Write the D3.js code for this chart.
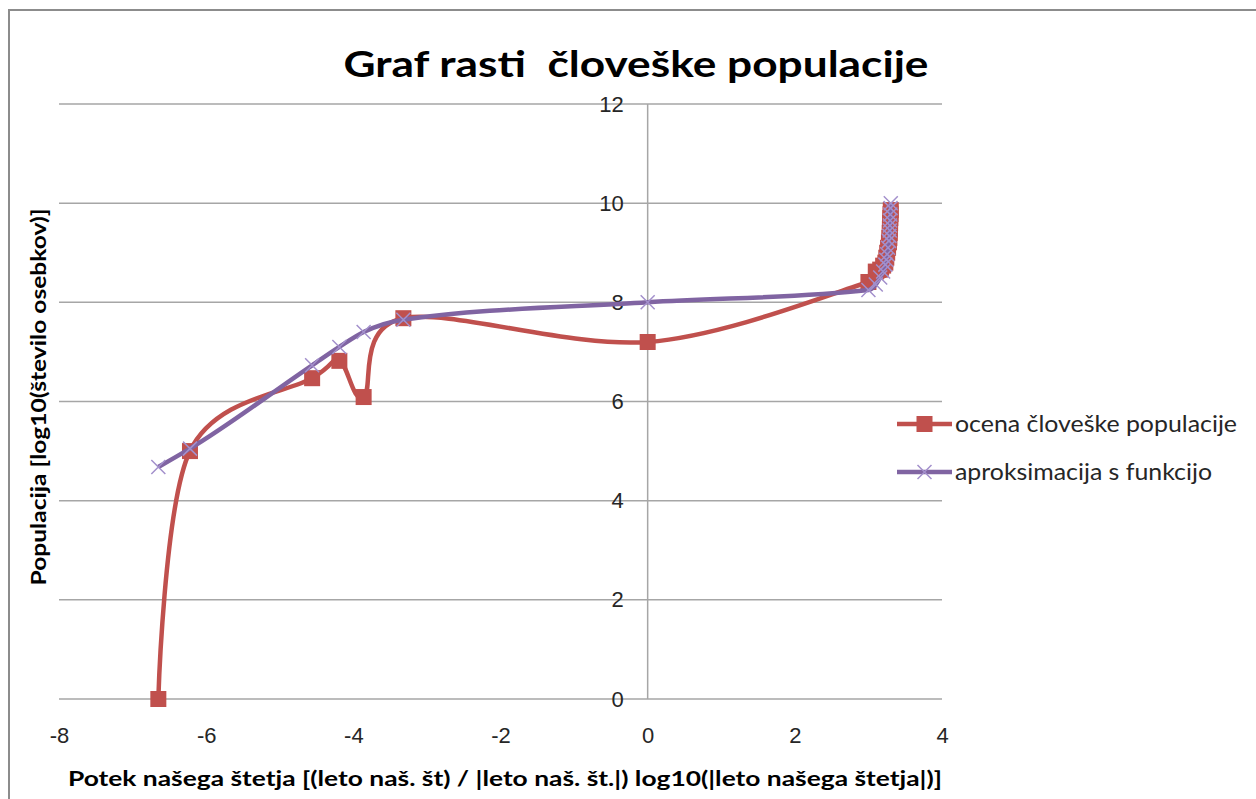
<!DOCTYPE html>
<html>
<head>
<meta charset="utf-8">
<script src="https://cdn.jsdelivr.net/npm/d3@7"></script>
<style>
  body { margin: 0; background: #fff; }
  svg { display: block; font-family: Lato, "Open Sans", sans-serif; }
  .grid line { stroke: #a6a6a6; stroke-width: 1.5; }
  .tick text { fill: #262626; font-size: 22px; }
</style>
</head>
<body>
<svg id="chart"></svg>
<script>
// Dimensions of the SVG
const width = 1256;
const height = 799;

// log10 of the year (signed), shared by both series
const leta = [-6.65, -6.22, -4.56, -4.19, -3.86, -3.32, 0, 3.0, 3.1, 3.16, 3.2, 3.23, 3.243, 3.255,
  3.267, 3.279, 3.285, 3.29, 3.292, 3.295, 3.298, 3.301, 3.304];

// log10 of the population estimate
const ocena = [0, 5.0, 6.47, 6.82, 6.09, 7.68, 7.2, 8.41, 8.62, 8.66, 8.74, 8.8, 8.9, 9.0,
  9.1, 9.21, 9.3, 9.4, 9.48, 9.6, 9.7, 9.78, 9.86];

// log10 of the approximating function
const aproksimacija = [4.68, 5.05, 6.73, 7.1, 7.4, 7.65, 8.0, 8.25, 8.36, 8.5, 8.62, 8.76, 8.86, 8.97,
  9.1, 9.24, 9.34, 9.45, 9.55, 9.65, 9.77, 9.9, 10.0];

const xTicks = [-8, -6, -4, -2, 0, 2, 4];
const yTicks = [0, 2, 4, 6, 8, 10, 12];

const seriesNames = ["ocena človeške populacije", "aproksimacija s funkcijo"];
const colors = ["#c0504d", "#8064a2"];

const svg = d3.select("#chart")
  .attr("width", width)
  .attr("height", height);

// Chart border
svg.append("rect")
  .attr("x", 9)
  .attr("y", 10)
  .attr("width", width + 20)
  .attr("height", height + 20)
  .attr("fill", "none")
  .attr("stroke", "#8c8c8c")
  .attr("stroke-width", 2);

// Scales
const x = d3.scaleLinear().domain([-8, 4]).range([59, 942]);
const y = d3.scaleLinear().domain([0, 12]).range([699, 104]);

// Horizontal gridlines
svg.append("g")
  .attr("class", "grid")
  .selectAll("line")
  .data(yTicks)
  .enter().append("line")
    .attr("x1", x(-8))
    .attr("x2", x(4))
    .attr("y1", (d) => y(d))
    .attr("y2", (d) => y(d));

// Vertical axis line at x = 0
svg.append("line")
  .attr("x1", x(0))
  .attr("x2", x(0))
  .attr("y1", y(12))
  .attr("y2", y(0))
  .attr("stroke", "#a6a6a6")
  .attr("stroke-width", 1.5);

// Y tick labels
const yAxis = d3.axisLeft(y).tickValues(yTicks).tickSize(0).tickPadding(24)
  .tickFormat((d) => String(d));
svg.append("g")
  .attr("transform", `translate(${x(0)}, 0)`)
  .call(yAxis)
  .call((g) => g.select(".domain").remove())
  .selectAll("text").attr("font-family", null);

// X tick labels, low on the chart (plain hyphen for negatives, like Excel)
const xAxis = d3.axisBottom(x).tickValues(xTicks).tickSize(0).tickPadding(0)
  .tickFormat((d) => String(d));
svg.append("g")
  .attr("transform", "translate(0, 727)")
  .call(xAxis)
  .call((g) => g.select(".domain").remove())
  .selectAll("text").attr("font-family", null);

// Lines (Excel style smoothing)
const redLine = d3.line()
  .x((d) => x(d[0]))
  .y((d) => y(d[1]))
  .curve(d3.curveCardinal.tension(0));

const purpleLine = d3.line()
  .x((d) => x(d[0]))
  .y((d) => y(d[1]))
  .curve(d3.curveMonotoneX);

const redPts = leta.map((v, i) => [v, ocena[i]]);
const purplePts = leta.map((v, i) => [v, aproksimacija[i]]);

svg.append("path")
  .datum(redPts)
  .attr("d", redLine)
  .attr("fill", "none")
  .attr("stroke", colors[0])
  .attr("stroke-width", 4.5)
  .attr("stroke-linejoin", "round");

svg.append("g")
  .selectAll("rect")
  .data(redPts)
  .enter().append("rect")
    .attr("x", (d) => x(d[0]) - 8)
    .attr("y", (d) => y(d[1]) - 8)
    .attr("width", 16)
    .attr("height", 16)
    .attr("fill", colors[0]);

svg.append("path")
  .datum(purplePts)
  .attr("d", purpleLine)
  .attr("fill", "none")
  .attr("stroke", colors[1])
  .attr("stroke-width", 4.5)
  .attr("stroke-linejoin", "round");

const cross = (g, cx, cy) => {
  g.append("path")
    .attr("d", `M${cx - 7},${cy - 7}L${cx + 7},${cy + 7}M${cx - 7},${cy + 7}L${cx + 7},${cy - 7}`)
    .attr("stroke", "#a390cc")
    .attr("stroke-width", 1.5)
    .attr("fill", "none");
};
const crosses = svg.append("g");
purplePts.forEach((d) => cross(crosses, x(d[0]), y(d[1])));

// Title
svg.append("text")
  .attr("x", 636)
  .attr("y", 77)
  .attr("text-anchor", "middle")
  .attr("font-size", "37px")
  .attr("font-weight", "bold")
  .attr("textLength", 585)
  .attr("lengthAdjust", "spacingAndGlyphs")
  .attr("fill", "#000")
  .style("white-space", "pre")
  .text("Graf rasti  človeške populacije");

// Axis titles
svg.append("text")
  .attr("x", 505)
  .attr("y", 786)
  .attr("text-anchor", "middle")
  .attr("font-size", "21px")
  .attr("font-weight", "bold")
  .attr("textLength", 874)
  .attr("lengthAdjust", "spacingAndGlyphs")
  .attr("fill", "#000")
  .text("Potek našega štetja [(leto naš. št) / |leto naš. št.|) log10(|leto našega štetja|)]");

svg.append("text")
  .attr("transform", "translate(46, 397) rotate(-90)")
  .attr("text-anchor", "middle")
  .attr("font-size", "21px")
  .attr("font-weight", "bold")
  .attr("textLength", 377)
  .attr("lengthAdjust", "spacingAndGlyphs")
  .attr("fill", "#000")
  .text("Populacija [log10(število osebkov)]");

// Legend
const legend = svg.append("g").attr("transform", "translate(897, 0)");
const legendY = [424, 472];
const legendLen = [282, 257];

legend.selectAll("line")
  .data(seriesNames)
  .enter().append("line")
    .attr("x1", 0)
    .attr("x2", 55)
    .attr("y1", (d, i) => legendY[i])
    .attr("y2", (d, i) => legendY[i])
    .attr("stroke", (d, i) => colors[i])
    .attr("stroke-width", 4.5);

legend.append("rect")
  .attr("x", 27.5 - 8)
  .attr("y", legendY[0] - 8)
  .attr("width", 16)
  .attr("height", 16)
  .attr("fill", colors[0]);
cross(legend, 27.5, legendY[1]);

legend.selectAll("text")
  .data(seriesNames)
  .enter().append("text")
    .attr("x", 58)
    .attr("y", (d, i) => legendY[i])
    .attr("dy", "0.35em")
    .attr("font-size", "24px")
    .attr("textLength", (d, i) => legendLen[i])
    .attr("lengthAdjust", "spacingAndGlyphs")
    .attr("fill", "#262626")
    .text((d) => d);
</script>
</body>
</html>
